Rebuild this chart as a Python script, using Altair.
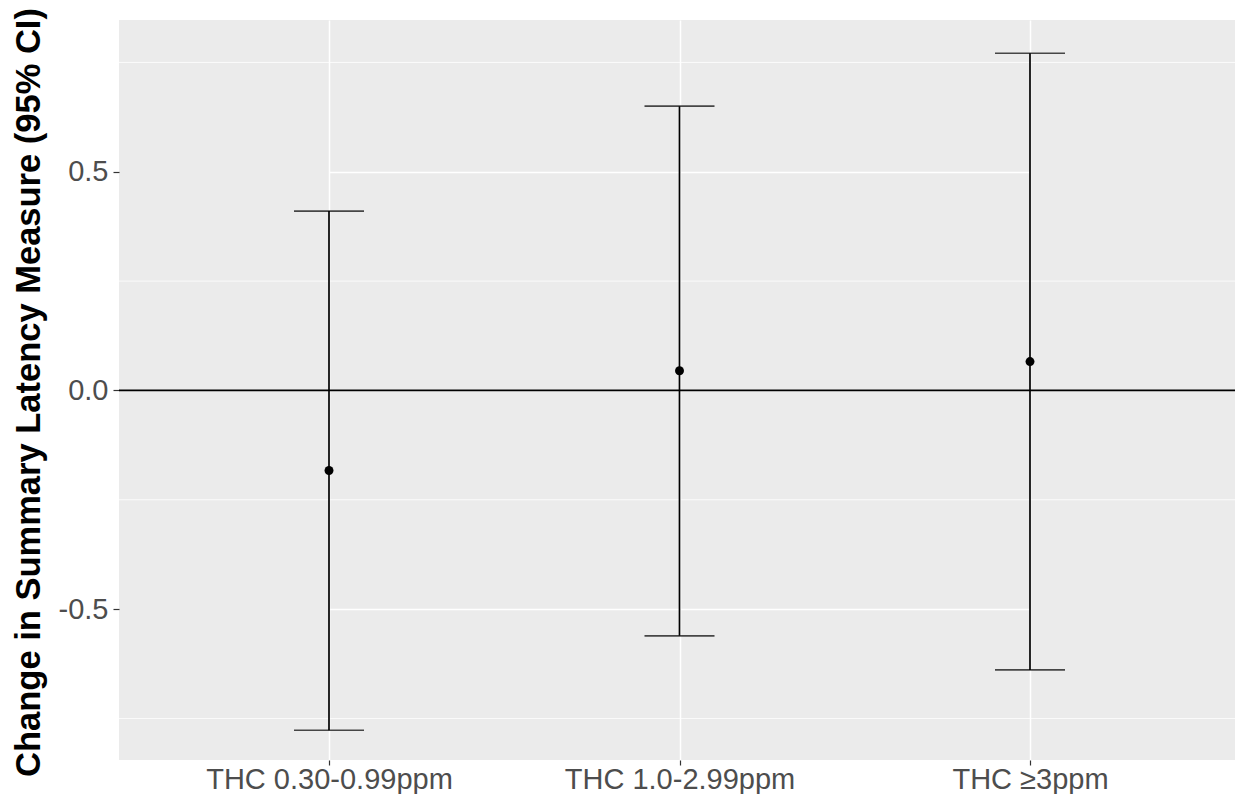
import altair as alt
import pandas as pd

categories = ["THC 0.30-0.99ppm", "THC 1.0-2.99ppm", "THC \u22653ppm"]
estimate = [-0.183, 0.045, 0.066]
lower = [-0.777, -0.561, -0.639]
upper = [0.410, 0.650, 0.771]
major_breaks = [-0.5, 0.0, 0.5]
minor_breaks = [-0.75, -0.25, 0.25, 0.75]
y_domain = [-0.845, 0.847]

df = pd.DataFrame({"cat": categories, "est": estimate, "lo": lower, "hi": upper})
minor_df = pd.DataFrame({"v": minor_breaks})
zero_df = pd.DataFrame({"v": [0.0]})

FONT = "Liberation Sans"

x_enc = alt.X(
    "cat:N",
    sort=categories,
    scale=alt.Scale(type="point", padding=0, range=[210, 911]),
    axis=alt.Axis(
        title=None,
        grid=True,
        gridColor="white",
        gridWidth=1.5,
        domain=False,
        tickColor="#333333",
        tickSize=5,
        tickWidth=1.2,
        labelColor="#4D4D4D",
        labelFont=FONT,
        labelFontSize=29,
        labelPadding=0,
        labelAngle=0,
        labelLimit=0,
    ),
)

y_scale = alt.Scale(domain=y_domain, nice=False, zero=False)
y_axis = alt.Axis(
    values=major_breaks,
    labelExpr="datum.value < 0 ? '-' + format(-datum.value, '.1f') : format(datum.value, '.1f')",
    grid=True,
    gridColor="white",
    gridWidth=1.5,
    domain=False,
    tickColor="#333333",
    tickSize=6,
    tickWidth=1.2,
    labelColor="#4D4D4D",
    labelFont=FONT,
    labelFontSize=29,
    labelPadding=5,
    title="Change in Summary Latency Measure (95% CI)",
    titleFont=FONT,
    titleFontSize=34.5,
    titleFontWeight="bold",
    titleColor="black",
    titleAngle=-90,
    titleX=-90,
    titleY=372,
    titleAlign="center",
    titleBaseline="middle",
)

minor = alt.Chart(minor_df).mark_rule(color="white", strokeWidth=0.8).encode(
    y=alt.Y("v:Q", scale=y_scale, axis=y_axis)
)

zero = alt.Chart(zero_df).mark_rule(color="black", strokeWidth=1.7).encode(
    y=alt.Y("v:Q", scale=y_scale)
)

base = alt.Chart(df)

bars = base.mark_rule(color="black", strokeWidth=1.7).encode(
    x=x_enc,
    y=alt.Y("lo:Q", scale=y_scale),
    y2="hi:Q",
)

cap_lo = base.mark_tick(color="black", size=70, thickness=1.7).encode(
    x=x_enc, y=alt.Y("lo:Q", scale=y_scale)
)
cap_hi = base.mark_tick(color="black", size=70, thickness=1.7).encode(
    x=x_enc, y=alt.Y("hi:Q", scale=y_scale)
)

points = base.mark_circle(color="black", size=80, opacity=1).encode(
    x=x_enc, y=alt.Y("est:Q", scale=y_scale)
)

chart = (
    alt.layer(minor, zero, bars, cap_lo, cap_hi, points)
    .properties(
        width=1116,
        height=740,
        autosize=alt.AutoSizeParams(type="none"),
        padding={"left": 111, "top": 12, "right": 0, "bottom": 34},
        background="white",
    )
    .configure_view(fill="#EBEBEB", stroke=None)
)

chart.save("out.html", embed_options={"renderer": "svg", "actions": False})
